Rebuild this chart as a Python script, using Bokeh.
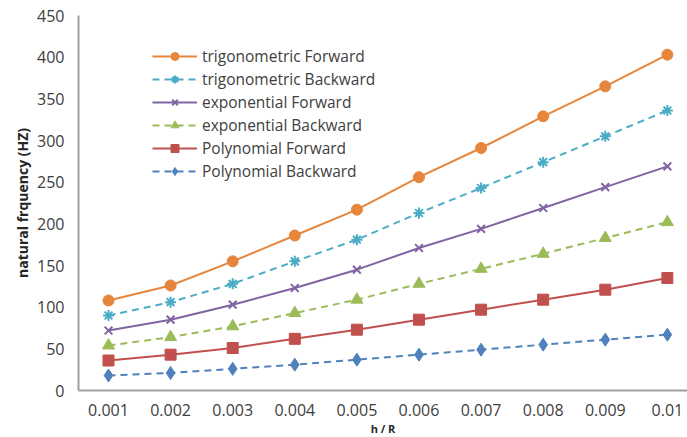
from bokeh.plotting import figure
from bokeh.models import FixedTicker, Range1d, Legend
from bokeh.embed import file_html
from bokeh.resources import INLINE

h_over_R = ["0.001", "0.002", "0.003", "0.004", "0.005", "0.006", "0.007", "0.008", "0.009", "0.01"]
trig_forward = [108, 126, 155, 186, 217, 256, 291, 329, 365, 403]
trig_backward = [90, 106, 128, 155, 181, 213, 243, 274, 305, 336]
exp_forward = [72, 85, 103, 123, 145, 171, 194, 219, 244, 269]
exp_backward = [54, 64, 77, 93, 109, 128, 146, 164, 183, 202]
poly_forward = [36, 43, 51, 62, 73, 85, 97, 109, 121, 135]
poly_backward = [18, 21, 26, 31, 37, 43, 49, 55, 61, 67]
y_ticks = [0, 50, 100, 150, 200, 250, 300, 350, 400, 450]

x = list(range(len(h_over_R)))

p = figure(frame_width=609, frame_height=375, output_backend="svg", toolbar_location=None,
           x_range=Range1d(-0.483, 9.324), y_range=Range1d(0, 450),
           min_border_left=78, min_border_top=15, min_border_bottom=40, min_border_right=0)
p.outline_line_color = None
p.xgrid.visible = False
p.ygrid.visible = False

FONT = "Open Sans"
series = [
    ("trigonometric Forward", trig_forward, "#E5863C", "solid", "circle", 11),
    ("trigonometric Backward", trig_backward, "#4BACC6", "7 5", "asterisk", 11),
    ("exponential Forward", exp_forward, "#8064A2", "solid", "x", 11),
    ("exponential Backward", exp_backward, "#9BBB59", "7 5", "triangle", 12),
    ("Polynomial Forward", poly_forward, "#C0504D", "solid", "square", 11),
    ("Polynomial Backward", poly_backward, "#4F81BD", "7 5", "diamond", 13),
]

items = []
for name, ys, col, dash, marker, size in series:
    l = p.line(x, ys, line_color=col, line_width=2, line_dash=dash)
    s = p.scatter(x, ys, marker=marker, size=size, fill_color=col, line_color=col,
                  line_width=2 if marker in ("asterisk", "x") else 1)
    items.append((name, [l, s]))

legend = Legend(items=items, location=(74, 208), padding=0, spacing=1,
                glyph_width=45, glyph_height=20, label_height=20, label_standoff=5,
                border_line_color=None, background_fill_alpha=0,
                label_text_font=FONT, label_text_font_size="15.5px", label_text_color="#404040")
p.add_layout(legend)

p.xaxis.ticker = FixedTicker(ticks=x)
p.xaxis.major_label_overrides = {i: lab for i, lab in enumerate(h_over_R)}
p.yaxis.ticker = FixedTicker(ticks=y_ticks)

for ax in (p.xaxis[0], p.yaxis[0]):
    ax.axis_line_color = "#A0A0A0"
    ax.axis_line_width = 2
    ax.major_tick_line_color = None
    ax.minor_tick_line_color = None
    ax.major_tick_out = 0
    ax.major_tick_in = 0
    ax.major_label_text_font = FONT
    ax.major_label_text_font_size = "16px"
    ax.major_label_text_color = "#404040"
    ax.axis_label_text_font = FONT
    ax.axis_label_text_font_style = "bold"
    ax.axis_label_text_color = "#262626"

p.xaxis.major_label_standoff = 13
p.yaxis.major_label_standoff = 14
p.yaxis.axis_label = "natural frquency (HZ)"
p.yaxis.axis_label_text_font_size = "14px"
p.yaxis.axis_label_standoff = 2
p.xaxis.axis_label = "h / R"
p.xaxis.axis_label_text_font_size = "11px"
p.xaxis.axis_label_standoff = 2

open("out.html", "w").write(file_html(p, INLINE))
